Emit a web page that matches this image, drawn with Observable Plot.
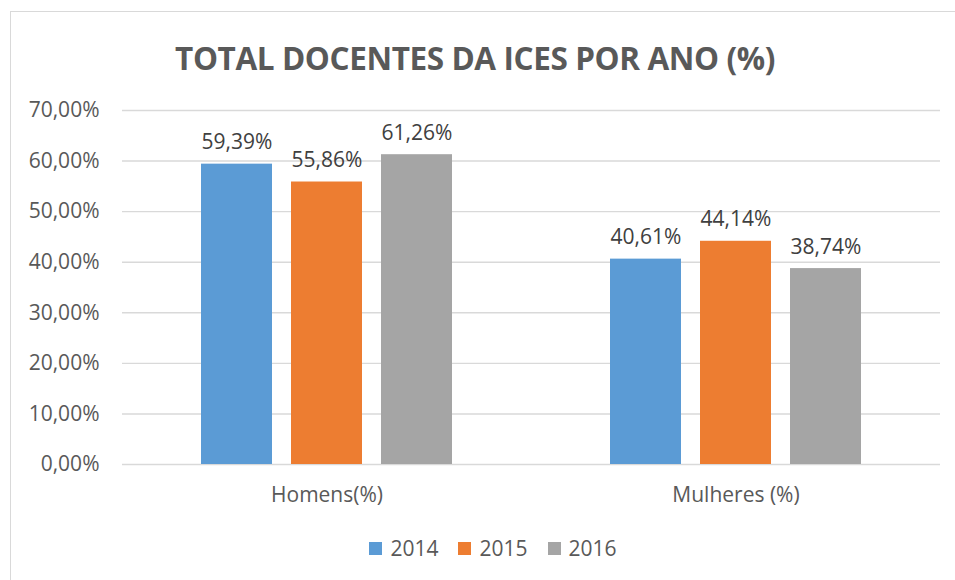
<!DOCTYPE html>
<html>
<head>
<meta charset="utf-8">
<script src="https://cdn.jsdelivr.net/npm/d3@7"></script>
<script src="https://cdn.jsdelivr.net/npm/@observablehq/plot@0.6"></script>
<style>
  html, body { margin: 0; padding: 0; background: #fff; overflow: hidden; }
  body { width: 955px; height: 580px; position: relative; font-family: "Open Sans", sans-serif; }
  #frame { position: absolute; left: 10px; top: 11px; width: 980px; height: 600px; border: 1px solid #d9d9d9; box-sizing: border-box; }
  #title { position: absolute; left: 0; width: 950px; top: 35px; text-align: center; font-size: 31.5px; font-weight: bold; color: #595959; line-height: 46px; letter-spacing: -0.4px; }
  #chart { position: absolute; left: 0; top: 95px; }
  #legend { position: absolute; left: 0; width: 986px; top: 533px; display: flex; justify-content: center; gap: 20px; font-size: 21px; color: #595959; line-height: 30px; }
  .item { display: flex; align-items: center; gap: 8px; }
  .sw { width: 13px; height: 13px; display: inline-block; }
</style>
</head>
<body>
<div id="frame"></div>
<div id="title">TOTAL DOCENTES DA ICES POR ANO (%)</div>
<div id="chart"></div>
<div id="legend"></div>
<script>
const categories = ["Homens(%)", "Mulheres (%)"];
const years = ["2014", "2015", "2016"];
const homens = [59.39, 55.86, 61.26];
const mulheres = [40.61, 44.14, 38.74];
const colors = ["#5b9bd5", "#ed7d31", "#a5a5a5"];
const yTicks = [0, 10, 20, 30, 40, 50, 60, 70];

const seriesByCat = [homens, mulheres];
const rows = [];
categories.forEach((c, i) => years.forEach((y, j) => rows.push({cat: c, year: y, value: seriesByCat[i][j]})));

const loc = d3.formatLocale({decimal: ",", thousands: ".", grouping: [3], currency: ["", ""]});
const f2 = loc.format(".2f");
const pct = v => f2(v) + "%";

const chart = Plot.plot({
  width: 955,
  height: 430,
  marginLeft: 121,
  marginRight: 15,
  marginTop: 15,
  marginBottom: 61,
  style: {fontFamily: "Open Sans, sans-serif", fontSize: "21px", color: "#595959", background: "transparent"},
  fx: {domain: categories, padding: 0, label: null, axis: "bottom", tickSize: 0, tickPadding: 23},
  x: {domain: years, paddingInner: 0.209, paddingOuter: 0.857, axis: null},
  y: {domain: [0, 70], axis: null},
  color: {domain: years, range: colors},
  marks: [
    Plot.gridY(yTicks, {stroke: "#d9d9d9", strokeOpacity: 1, strokeWidth: 1.4}),
    Plot.axisY(yTicks, {tickSize: 0, tickPadding: 23, tickFormat: pct, fontSize: 21, fill: "#595959", label: null}),
    Plot.barY(rows, {fx: "cat", x: "year", y: "value", fill: "year"}),
    Plot.text(rows, {fx: "cat", x: "year", y: "value", text: d => pct(d.value), dy: -15, lineAnchor: "bottom", fontSize: 21, fill: "#404040"})
  ]
});
document.getElementById("chart").appendChild(chart);

const legend = document.getElementById("legend");
years.forEach((y, i) => {
  const it = document.createElement("div");
  it.className = "item";
  it.innerHTML = `<span class="sw" style="background:${colors[i]}"></span><span>${y}</span>`;
  legend.appendChild(it);
});
</script>
</body>
</html>
